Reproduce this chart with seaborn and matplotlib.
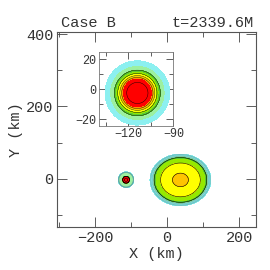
import numpy as np
import matplotlib
matplotlib.use("Agg")
import matplotlib.pyplot as plt
import seaborn as sns
from matplotlib.ticker import MultipleLocator

sns.set_theme(style="ticks")
plt.rcParams['font.family'] = ['Liberation Mono', 'DejaVu Sans Mono']

# ---- data ----
title_left = "Case B"
title_right = "t=2339.6M"
x_label = "X (km)"
y_label = "Y (km)"

# contour levels (normalised density) and band colours
fill_levels = [0.01, 0.2, 0.3, 0.4, 0.5, 0.6, 0.7, 0.8, 1.01]
fill_colors = ['#8cf0f0', '#9cf0a0', '#5ccc30', '#96e800', '#ffff00',
               '#ffc400', '#ff9400', '#ff0000']
black_levels = [0.3, 0.5, 0.6, 0.9]
inset_black_levels = [0.3, 0.45, 0.55, 0.65, 0.9]
edge_levels = [0.03, 0.06, 0.1, 0.2]

# small (compact) star
small_center = (-114.0, -2.5)
small_r_inset = [0.0, 7.1, 9.3, 10.0, 10.9, 12.4, 13.8, 15.3, 17.8, 21.1, 21.6]
small_v_inset = [1.0, 0.9, 0.8, 0.7, 0.6, 0.5, 0.4, 0.3, 0.2, 0.1, 0.0]
small_r_main = [0.0, 9.0, 9.6, 19.5, 21.0, 22.0]
small_v_main = [1.0, 0.8, 0.25, 0.22, 0.05, 0.0]

# large (puffy) star
big_center = (37.0, -3.0)
big_axes = (85.0, 72.0)
big_q = [0.0, 0.26, 0.65, 0.80, 0.86, 0.89, 0.92, 0.95, 0.98, 1.0]
big_v = [0.66, 0.6, 0.5, 0.4, 0.3, 0.2, 0.1, 0.07, 0.04, 0.0]

main_xlim = (-305, 246)
main_ylim = (-134, 405)
inset_xlim = (-139.7, -90)
inset_ylim = (-24.5, 25)


def star(X, Y, c, a, b, q_tab, v_tab):
    q = np.sqrt(((X - c[0]) / a) ** 2 + ((Y - c[1]) / b) ** 2)
    return np.interp(q, q_tab, v_tab, right=0.0)


fig = plt.figure(figsize=(2.7, 2.7), dpi=100)
ax = fig.add_axes([0.2122, 0.1581, 0.7348, 0.7222])

xm = np.linspace(*main_xlim, 700)
ym = np.linspace(*main_ylim, 700)
XM, YM = np.meshgrid(xm, ym)
rs = np.array(small_r_main)
FM = np.maximum(
    star(XM, YM, small_center, rs[-1], rs[-1], list(rs / rs[-1]), small_v_main),
    star(XM, YM, big_center, big_axes[0], big_axes[1], big_q, big_v))

ax.contourf(XM, YM, FM, levels=fill_levels, colors=fill_colors)
ax.contour(XM, YM, FM, levels=edge_levels, colors='#5aa0a0', linewidths=0.3)
ax.contour(XM, YM, FM, levels=black_levels, colors='black', linewidths=0.4)

ax.set_xlim(*main_xlim)
ax.set_ylim(*main_ylim)
ax.set_xticks([-200, 0, 200])
ax.set_yticks([0, 200, 400])
ax.xaxis.set_minor_locator(MultipleLocator(100))
ax.yaxis.set_minor_locator(MultipleLocator(100))
ax.tick_params(which='both', direction='in', top=True, right=True,
               colors='#444444', labelcolor='#333333', width=0.6)
ax.tick_params(which='major', length=7, labelsize=11, pad=3)
ax.tick_params(which='minor', length=3.5)
for s in ax.spines.values():
    s.set_color('#555555')
    s.set_linewidth(0.8)
ax.set_xlabel(x_label, fontsize=11, color='#333333', labelpad=1)
ax.set_ylabel(y_label, fontsize=11, color='#333333', labelpad=2)
ax.text(0.02, 1.01, title_left, transform=ax.transAxes, ha='left', va='bottom',
        fontsize=11, color='#333333')
ax.text(0.99, 1.01, title_right, transform=ax.transAxes, ha='right', va='bottom',
        fontsize=11, color='#333333')

# inset
ins = fig.add_axes([0.366, 0.5344, 0.276, 0.273])
xi = np.linspace(*inset_xlim, 500)
yi = np.linspace(*inset_ylim, 500)
XI, YI = np.meshgrid(xi, yi)
ri = np.array(small_r_inset)
FI = star(XI, YI, small_center, ri[-1], ri[-1], list(ri / ri[-1]), small_v_inset)
ins.contourf(XI, YI, FI, levels=fill_levels, colors=fill_colors)
ins.contour(XI, YI, FI, levels=inset_black_levels, colors='black',
            linewidths=0.3)
ins.set_xlim(*inset_xlim)
ins.set_ylim(*inset_ylim)
ins.set_xticks([-120, -90])
ins.set_yticks([-20, 0, 20])
ins.xaxis.set_minor_locator(MultipleLocator(15))
ins.yaxis.set_minor_locator(MultipleLocator(10))
ins.tick_params(which='both', direction='in', top=True, right=True,
                colors='#444444', labelcolor='#333333', width=0.6)
ins.tick_params(which='major', length=5, labelsize=8.5, pad=2)
ins.tick_params(which='minor', length=3)
for s in ins.spines.values():
    s.set_color('#777777')
    s.set_linewidth(0.6)

fig.savefig("out.png", dpi=100)
